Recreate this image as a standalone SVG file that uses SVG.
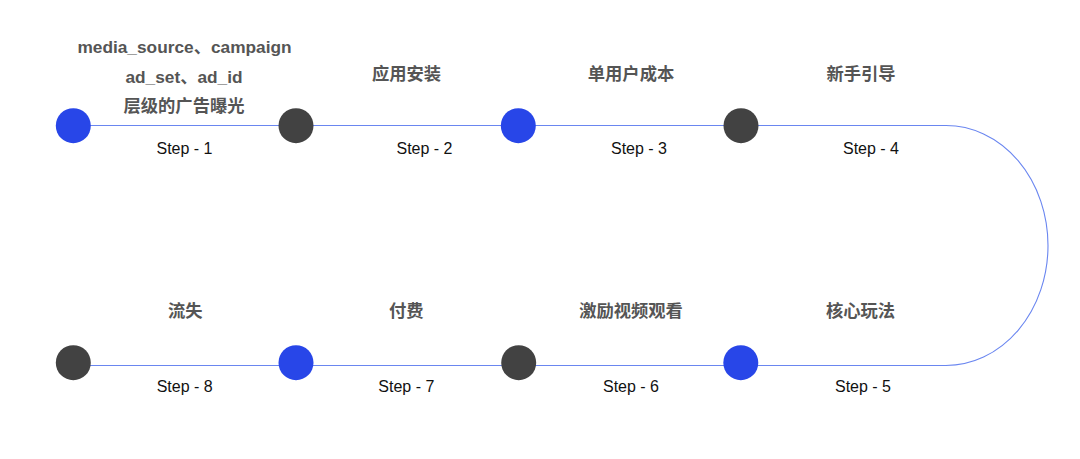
<svg xmlns="http://www.w3.org/2000/svg" width="1080" height="459" viewBox="0 0 1080 459">
<style>
.lbl{font-family:"Liberation Sans","Noto Sans CJK SC",sans-serif;font-weight:bold;font-size:17.3px;fill:#555;text-anchor:middle}
.step{font-family:"Liberation Sans","Noto Sans CJK SC",sans-serif;font-size:16px;fill:#111;text-anchor:middle}
.blue{fill:#2846e8}
.dark{fill:#424242}
.conn{fill:none;stroke:#6a86f0;stroke-width:1.1}
</style>
<rect width="1080" height="459" fill="#fff"/>
<g id="connectors">
<path class="conn" d="M73 125.5 H946 A102 120 0 0 1 946 365.5 H73"/>
</g>
<g id="step1">
<circle class="blue" cx="73.3" cy="125.7" r="17.5"/>
<text class="lbl" x="184.5" y="52.5">media_source、campaign</text>
<text class="lbl" x="184" y="83">ad_set、ad_id</text>
<text class="lbl" x="184" y="112">层级的广告曝光</text>
<text class="step" x="184.5" y="154">Step - 1</text>
</g>
<g id="step2">
<circle class="dark" cx="296" cy="125.7" r="17.5"/>
<text class="lbl" x="406.5" y="80">应用安装</text>
<text class="step" x="424.5" y="154">Step - 2</text>
</g>
<g id="step3">
<circle class="blue" cx="518.3" cy="125.7" r="17.5"/>
<text class="lbl" x="631" y="80">单用户成本</text>
<text class="step" x="639" y="154">Step - 3</text>
</g>
<g id="step4">
<circle class="dark" cx="741" cy="125.7" r="17.5"/>
<text class="lbl" x="861" y="80">新手引导</text>
<text class="step" x="871" y="154">Step - 4</text>
</g>
<g id="step5">
<circle class="blue" cx="740.8" cy="362.7" r="17.5"/>
<text class="lbl" x="860.5" y="317">核心玩法</text>
<text class="step" x="863" y="391.5">Step - 5</text>
</g>
<g id="step6">
<circle class="dark" cx="518.7" cy="362.7" r="17.5"/>
<text class="lbl" x="631" y="317">激励视频观看</text>
<text class="step" x="631" y="391.5">Step - 6</text>
</g>
<g id="step7">
<circle class="blue" cx="296" cy="362.7" r="17.5"/>
<text class="lbl" x="406.3" y="317">付费</text>
<text class="step" x="406.3" y="391.5">Step - 7</text>
</g>
<g id="step8">
<circle class="dark" cx="73.3" cy="362.7" r="17.5"/>
<text class="lbl" x="185.3" y="317">流失</text>
<text class="step" x="184.7" y="391.5">Step - 8</text>
</g>
</svg>
